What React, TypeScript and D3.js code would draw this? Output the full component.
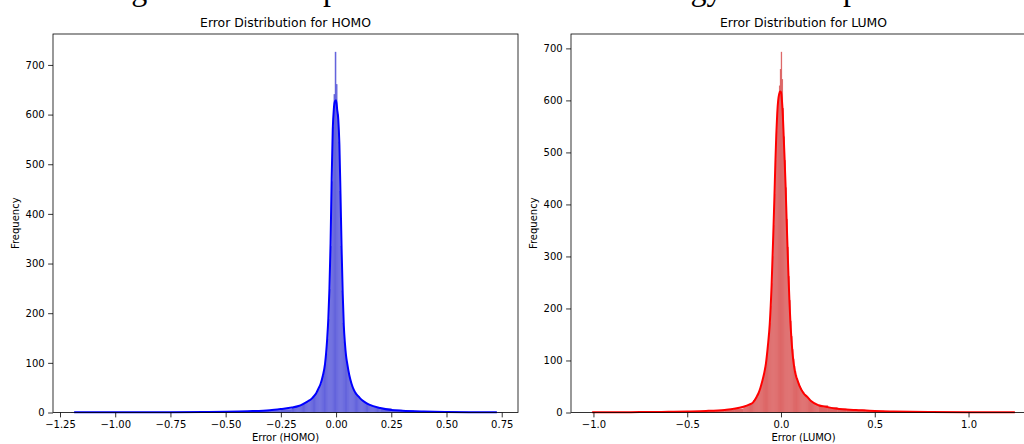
import { useEffect, useRef } from "react";
import * as d3 from "d3";

// taille de la figure
const W = 1024;
const H = 444;

// ---- données HOMO ----
const homoRange = [-1.186, 0.728];
const homoTicks = [-1.25, -1.0, -0.75, -0.5, -0.25, 0.0, 0.25, 0.5, 0.75];
// bacs fins (largeur 0.005) de -0.20 à 0.20
const homoCenter = [
  10, 11, 10, 12, 11, 13, 12, 14, 15, 17, 16, 19, 18, 21, 22, 23, 25, 27, 28, 31,
  33, 36, 38, 43, 47, 52, 57, 66, 73, 85, 97, 118, 148, 188, 248, 335, 465, 575, 640, 726,
  660, 600, 545, 445, 335, 245, 180, 142, 117, 101, 88, 77, 68, 60, 53, 48, 44, 40, 37, 34,
  32, 29, 27, 25, 23, 22, 20, 19, 17, 16, 15, 14, 13, 12, 12, 11, 10, 10, 9, 9,
];
// queues (largeur 0.05)
const homoTailLeft = [0.3, 0.3, 0.3, 0.3, 0.3, 0.4, 0.4, 0.4, 0.5, 0.5, 0.6, 0.8, 1, 1.3, 1.6, 2, 2.6, 3.4, 4.5, 6.5];
const homoTailRight = [8, 5, 3.5, 2.8, 2, 1.5, 1.2, 0.9, 0.7, 0.5, 0.4];
const homoKdeX = [
  -1.186, -1.0, -0.75, -0.6, -0.5, -0.4, -0.3, -0.25, -0.2, -0.17, -0.15, -0.13, -0.11, -0.1, -0.09,
  -0.08, -0.07, -0.06, -0.05, -0.045, -0.04, -0.035, -0.03, -0.025, -0.02, -0.015, -0.01, -0.005, 0.0,
  0.005, 0.01, 0.015, 0.02, 0.025, 0.03, 0.035, 0.04, 0.045, 0.05, 0.06, 0.07, 0.08, 0.09, 0.1,
  0.11, 0.13, 0.15, 0.2, 0.25, 0.3, 0.4, 0.5, 0.6, 0.728,
];
const homoKdeY = [
  0.3, 0.3, 0.5, 1, 1.5, 2.5, 4.5, 7, 10, 13, 17, 22, 28, 33, 39,
  48, 58, 74, 98, 120, 150, 190, 250, 340, 470, 570, 612, 627, 629,
  610, 590, 540, 440, 330, 240, 175, 140, 115, 100, 75, 58, 46, 38, 33,
  28, 21, 16, 9, 5, 3.5, 2, 1.2, 0.7, 0.4,
];

// ---- données LUMO ----
const lumoRange = [-1.007, 1.247];
const lumoTicks = [-1.0, -0.5, 0.0, 0.5, 1.0];
const lumoCenter = [
  12, 12, 13, 14, 14, 15, 16, 16, 18, 18, 20, 23, 25, 28, 31, 34, 38, 43, 48, 54,
  61, 68, 77, 86, 97, 112, 130, 150, 172, 205, 248, 300, 360, 420, 485, 540, 580, 610, 628, 660,
  693, 640, 585, 530, 485, 432, 372, 318, 262, 216, 176, 146, 121, 103, 89, 79, 71, 65, 60, 55,
  51, 47, 43, 40, 38, 35, 33, 31, 30, 27, 25, 23, 22, 20, 19, 18, 16, 15, 14, 14,
];
const lumoTailLeft = [0.3, 0.4, 0.4, 0.5, 0.6, 0.7, 0.9, 1.1, 1.3, 1.6, 2, 2.5, 3, 4, 5, 7];
const lumoTailRight = [13, 10, 7, 6, 5, 4, 3, 2.5, 2, 1.7, 1.4, 1.2, 1, 0.9, 0.8, 0.7, 0.6, 0.5, 0.5, 0.4, 0.4];
const lumoKdeX = [
  -1.007, -0.9, -0.8, -0.7, -0.6, -0.5, -0.4, -0.3, -0.25, -0.2, -0.17, -0.15, -0.13, -0.12, -0.11,
  -0.1, -0.09, -0.08, -0.07, -0.06, -0.05, -0.04, -0.035, -0.03, -0.025, -0.02, -0.015, -0.01, -0.005,
  0.0, 0.005, 0.01, 0.015, 0.02, 0.025, 0.03, 0.035, 0.04, 0.045, 0.05, 0.055, 0.06, 0.07, 0.08,
  0.09, 0.1, 0.12, 0.14, 0.16, 0.2, 0.24, 0.3, 0.4, 0.5, 0.6, 0.8, 1.0, 1.1, 1.247,
];
const lumoKdeY = [
  0.3, 0.4, 0.6, 0.9, 1.3, 2, 3, 5, 7, 11, 15, 19, 30, 37, 47,
  60, 75, 95, 128, 170, 245, 355, 415, 480, 535, 575, 600, 612, 617,
  616, 600, 570, 525, 480, 430, 370, 315, 262, 215, 175, 145, 120, 88, 70,
  60, 50, 37, 30, 22, 14, 11, 7, 5, 3, 2, 1, 0.6, 0.5, 0.4,
];

// texte coupé en haut de l'image
const captionWords = ["Histogram of the", "prediction error in", "energy", "in both", "panels."];
const captionX = [62, 323, 636, 735, 843];

const fineStart = -0.2;
const fineWidth = 0.005;
const tailWidth = 0.05;

const axTop = 34;
const axBottom = 412.5;
const axWidth = 465;

const minus = (s) => s.replace("-", "\u2212");

const drawPanel = (svg, p) => {
  const pad = (p.range[1] - p.range[0]) * 0.05;
  const x = d3.scaleLinear()
    .domain([p.range[0] - pad, p.range[1] + pad])
    .range([p.left, p.left + axWidth]);

  const bins = [
    ...p.tailLeft.map((c, i) => ({ x0: fineStart - (p.tailLeft.length - i) * tailWidth, w: tailWidth, c })),
    ...p.center.map((c, i) => ({ x0: fineStart + i * fineWidth, w: fineWidth, c })),
    ...p.tailRight.map((c, i) => ({ x0: -fineStart + i * tailWidth, w: tailWidth, c })),
  ];
  const y = d3.scaleLinear()
    .domain([0, d3.max(bins, d => d.c) * 1.05])
    .range([axBottom, axTop]);

  const g = svg.append("g");

  // barres de l'histogramme
  g.append("g")
    .selectAll("rect")
    .data(bins)
    .join("rect")
    .attr("x", d => x(d.x0))
    .attr("width", d => x(d.x0 + d.w) - x(d.x0))
    .attr("y", d => y(d.c))
    .attr("height", d => axBottom - y(d.c))
    .attr("fill", p.fill)
    .attr("stroke", p.fill)
    .attr("stroke-width", 0.35);

  // courbe KDE
  const line = d3.line()
    .x(d => x(d[0]))
    .y(d => y(d[1]))
    .curve(d3.curveMonotoneX);
  g.append("path")
    .datum(p.kdeX.map((v, i) => [v, p.kdeY[i]]))
    .attr("d", line)
    .attr("fill", "none")
    .attr("stroke", p.line)
    .attr("stroke-width", 2);

  // axes
  const yAxis = d3.axisLeft(y)
    .tickValues(d3.range(0, 701, 100))
    .tickSize(4.9)
    .tickPadding(3.5)
    .tickFormat(d3.format("d"));
  const xAxis = d3.axisBottom(x)
    .tickValues(p.ticks)
    .tickSize(4.9)
    .tickPadding(3.5)
    .tickFormat(d => minus(d3.format(p.fmt)(d)));

  g.append("g").attr("transform", `translate(${p.left},0)`).call(yAxis);
  g.append("g").attr("transform", `translate(0,${axBottom})`).call(xAxis);
  g.selectAll(".domain").remove();
  g.selectAll(".tick line").attr("stroke", "#000").attr("stroke-width", 0.8);
  g.selectAll(".tick text")
    .attr("fill", "#000")
    .attr("font-family", "DejaVu Sans")
    .attr("font-size", 10);

  // cadre
  g.append("rect")
    .attr("x", p.left)
    .attr("y", axTop)
    .attr("width", axWidth)
    .attr("height", axBottom - axTop)
    .attr("fill", "none")
    .attr("stroke", "#000")
    .attr("stroke-width", 0.8);

  // titres
  g.append("text")
    .attr("x", p.left + axWidth / 2)
    .attr("y", 27)
    .attr("text-anchor", "middle")
    .attr("font-family", "DejaVu Sans")
    .attr("font-size", 12.4)
    .text(p.title);
  g.append("text")
    .attr("x", p.left + axWidth / 2)
    .attr("y", 441)
    .attr("text-anchor", "middle")
    .attr("font-family", "DejaVu Sans")
    .attr("font-size", 10)
    .text(p.xlabel);
  g.append("text")
    .attr("transform", `translate(${p.ylabelX},${(axTop + axBottom) / 2}) rotate(-90)`)
    .attr("text-anchor", "middle")
    .attr("font-family", "DejaVu Sans")
    .attr("font-size", 10)
    .text("Frequency");
};

export default function App() {
  const ref = useRef(null);

  useEffect(() => {
    const svg = d3.select(ref.current);
    svg.selectAll("*").remove();

    svg.append("rect").attr("width", W).attr("height", H).attr("fill", "#fff");

    // légende coupée en haut (comme dans l'original)
    const cap = svg.append("text")
      .attr("y", -0.5)
      .attr("font-family", "Liberation Serif")
      .attr("font-size", 32);
    captionWords.forEach((w, i) => cap.append("tspan").attr("x", captionX[i]).text(w));

    drawPanel(svg, {
      left: 53, range: homoRange, ticks: homoTicks, fmt: ".2f",
      center: homoCenter, tailLeft: homoTailLeft, tailRight: homoTailRight,
      kdeX: homoKdeX, kdeY: homoKdeY,
      fill: "#6565dc", line: "#0000ff",
      title: "Error Distribution for HOMO", xlabel: "Error (HOMO)", ylabelX: 19,
    });
    drawPanel(svg, {
      left: 571, range: lumoRange, ticks: lumoTicks, fmt: ".1f",
      center: lumoCenter, tailLeft: lumoTailLeft, tailRight: lumoTailRight,
      kdeX: lumoKdeX, kdeY: lumoKdeY,
      fill: "#dc6565", line: "#ff0000",
      title: "Error Distribution for LUMO", xlabel: "Error (LUMO)", ylabelX: 537,
    });
  }, []);

  return (
    <svg
      ref={ref}
      width={W}
      height={H}
      style={{ position: "absolute", left: 0, top: 0, display: "block" }}
    />
  );
}
